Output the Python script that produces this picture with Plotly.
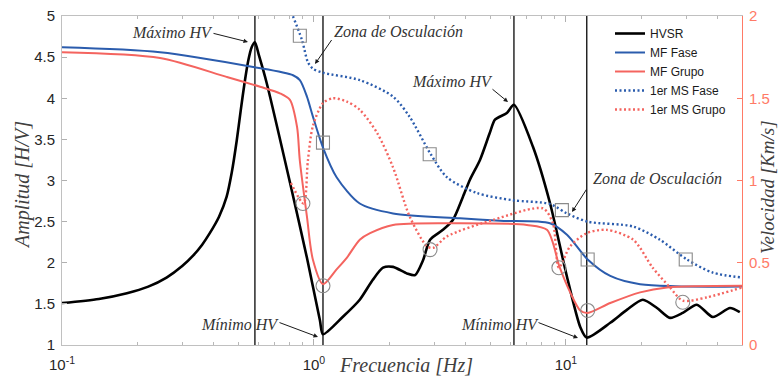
import numpy as np
import plotly.graph_objects as go

# ---------------- data ----------------
hvsr_f = [0.1, 0.14, 0.181, 0.22, 0.26, 0.30, 0.332, 0.36, 0.386, 0.42, 0.450, 0.472, 0.494,
          0.512, 0.530, 0.548, 0.566, 0.583, 0.605, 0.650,
          0.804, 0.938, 1.056, 1.086, 1.30, 1.52, 1.71, 1.88, 2.06, 2.34, 2.52, 2.71, 2.89,
          3.25, 3.56, 3.90, 4.16, 4.56, 4.99, 5.23, 5.83, 6.22, 7.40, 8.64, 10.1, 11.4,
          12.1, 15.0, 17.5, 20.2, 23.0, 25.9, 29.1, 33.1, 38.3, 44.8, 49.0]
hvsr_a = [1.51, 1.56, 1.63, 1.71, 1.82, 1.96, 2.09, 2.22, 2.36, 2.56, 2.80, 3.10, 3.49,
          3.85, 4.18, 4.45, 4.62, 4.68, 4.52, 4.18,
          2.97, 2.06, 1.30, 1.13, 1.34, 1.55, 1.79, 1.94, 1.95, 1.87, 1.85, 2.03, 2.28,
          2.40, 2.52, 2.80, 3.01, 3.25, 3.58, 3.74, 3.82, 3.92, 3.41, 2.73, 1.83, 1.22,
          1.09, 1.27, 1.43, 1.55, 1.45, 1.33, 1.39, 1.49, 1.34, 1.45, 1.40]

mf_fase_f = [0.1, 0.245, 0.574, 0.826, 0.879, 0.938, 0.99, 1.086, 1.23, 1.52, 2.06, 3.80,
             5.47, 8.64, 10.1, 12.2, 15.0, 19.7, 50.0]
mf_fase_v = [1.81, 1.78, 1.69, 1.64, 1.61, 1.51, 1.39, 1.20, 1.02, 0.86, 0.80, 0.77,
             0.755, 0.74, 0.67, 0.52, 0.42, 0.37, 0.355]

mf_grupo_f = [0.1, 0.245, 0.450, 0.611, 0.733, 0.803, 0.857, 0.879, 0.938, 0.99, 1.086,
              1.23, 1.35, 1.52, 1.67, 2.06, 3.80, 7.0, 8.41, 9.46, 10.4, 11.4, 12.2, 15.0,
              19.7, 25.2, 50.0]
mf_grupo_v = [1.78, 1.745, 1.63, 1.57, 1.53, 1.49, 1.325, 1.12, 0.78, 0.52, 0.37,
              0.46, 0.53, 0.64, 0.68, 0.73, 0.74, 0.73, 0.70, 0.47, 0.32, 0.21, 0.195, 0.255,
              0.32, 0.35, 0.36]

ms_fase_f = [0.80, 0.896, 0.946, 0.99, 1.086, 1.52, 2.06, 2.40, 2.89, 3.37, 4.43, 6.16,
             8.64, 10.1, 12.2, 18.5, 23.6, 30.2, 38.3, 50.0]
ms_fase_v = [2.05, 1.855, 1.72, 1.68, 1.655, 1.61, 1.51, 1.386, 1.167, 1.02, 0.924, 0.88,
             0.857, 0.80, 0.75, 0.72, 0.64, 0.52, 0.44, 0.41]

ms_grupo_f = [0.81, 0.91, 0.946, 0.99, 1.086, 1.19, 1.35, 1.52, 1.78, 2.06, 2.40, 2.81,
              2.97, 3.37, 5.13, 8.11, 8.88, 9.38, 10.4, 12.1, 14.5, 18.5, 22.1, 25.9, 29.1,
              36.3, 50.0]
ms_grupo_v = [0.985, 0.86, 1.12, 1.33, 1.47, 1.50, 1.48, 1.43, 1.29, 1.08, 0.78, 0.60,
              0.59, 0.66, 0.76, 0.83, 0.74, 0.47, 0.60, 0.68, 0.70, 0.64, 0.47, 0.35, 0.27,
              0.29, 0.35]

sq_f = [0.879, 1.086, 2.88, 9.64, 12.2, 29.9]
sq_v = [1.88, 1.23, 1.16, 0.82, 0.52, 0.52]
circ_f = [0.904, 1.086, 2.89, 9.38, 12.2, 29.1]
circ_v = [0.86, 0.36, 0.58, 0.47, 0.21, 0.26]

vline_f = [0.583, 1.086, 6.22, 12.1]

x_tickvals = [0.1, 1, 10]
x_ticktext = ["10<sup>-1</sup>", "10<sup>0</sup>", "10<sup>1</sup>"]
x_minor = [0.2, 0.3, 0.4, 0.5, 0.6, 0.7, 0.8, 0.9, 2, 3, 4, 5, 6, 7, 8, 9, 20, 30, 40]
y_tickvals = [1, 1.5, 2, 2.5, 3, 3.5, 4, 4.5, 5]
y_ticktext = ["1", "1.5", "2", "2.5", "3", "3.5", "4", "4.5", "5"]
y2_tickvals = [0, 0.5, 1, 1.5, 2]
y2_ticktext = ["0", "0.5", "1", "1.5", "2"]

# ---------------- style ----------------
W, H = 780, 376
ML, MR, MT, MB = 62, 38, 16, 31
PW, PH = W - ML - MR, H - MT - MB

BLUE = "#2b5cad"
RED = "#f4645f"
SALMON = "#ff7a66"
GRAY = "#8a8a8a"
SANS = "Liberation Sans, Arial, sans-serif"
SERIF = "Liberation Serif, Times New Roman, serif"


def px(x):
    return (x - ML) / PW


def py(y):
    return (H - MB - y) / PH


fig = go.Figure()

# vertical reference lines
vx, vy = [], []
for f in vline_f:
    vx += [f, f, None]
    vy += [1, 5, None]
fig.add_trace(go.Scatter(x=vx, y=vy, mode="lines", line=dict(color="#1a1a1a", width=1.4),
                         showlegend=False, hoverinfo="skip", yaxis="y"))

fig.add_trace(go.Scatter(x=hvsr_f, y=hvsr_a, name="HVSR", mode="lines",
                         line=dict(color="black", width=2.6, shape="spline", smoothing=0.7),
                         yaxis="y"))
fig.add_trace(go.Scatter(x=mf_fase_f, y=mf_fase_v, name="MF Fase", mode="lines",
                         line=dict(color=BLUE, width=2, shape="spline", smoothing=0.8),
                         yaxis="y2"))
fig.add_trace(go.Scatter(x=mf_grupo_f, y=mf_grupo_v, name="MF Grupo", mode="lines",
                         line=dict(color=RED, width=2, shape="spline", smoothing=0.8),
                         yaxis="y2"))
fig.add_trace(go.Scatter(x=ms_fase_f, y=ms_fase_v, name="1er MS Fase", mode="lines",
                         line=dict(color=BLUE, width=2.4, dash="2px,2.5px", shape="spline",
                                   smoothing=0.8),
                         yaxis="y2"))
fig.add_trace(go.Scatter(x=ms_grupo_f, y=ms_grupo_v, name="1er MS Grupo", mode="lines",
                         line=dict(color=RED, width=2.4, dash="2px,2.5px", shape="spline",
                                   smoothing=0.8),
                         yaxis="y2"))
fig.add_trace(go.Scatter(x=sq_f, y=sq_v, mode="markers", showlegend=False,
                         marker=dict(symbol="square-open", size=13, color=GRAY,
                                     line=dict(width=1.1, color=GRAY)),
                         yaxis="y2"))
fig.add_trace(go.Scatter(x=circ_f, y=circ_v, mode="markers", showlegend=False,
                         marker=dict(symbol="circle-open", size=14, color=GRAY,
                                     line=dict(width=1.1, color=GRAY)),
                         yaxis="y2"))

# ---------------- annotations ----------------
ann = []
labels = [
    ("Máximo HV", 172, 33),
    ("Zona de Osculación", 398, 31),
    ("Máximo HV", 452, 81),
    ("Zona de Osculación", 657, 178),
    ("Mínimo HV", 240, 324),
    ("Mínimo HV", 500, 324),
]
for t, x, y in labels:
    ann.append(dict(text="<i>" + t + "</i>", x=px(x), y=py(y), xref="paper", yref="paper",
                    showarrow=False, xanchor="center", yanchor="middle",
                    font=dict(family=SERIF, size=16, color="#333333")))
arrows = [  # tip pixel, tail pixel
    ((248, 42), (212, 33)),
    ((315, 64), (333, 38)),
    ((508, 102), (491, 88)),
    ((572, 212), (588, 187)),
    ((318, 337), (278, 322)),
    ((578, 338), (537, 322)),
]
for (tx, ty), (sx, sy) in arrows:
    ann.append(dict(text=" ", x=px(tx), y=py(ty), xref="paper", yref="paper",
                    ax=sx - tx, ay=sy - ty, showarrow=True, arrowhead=2, arrowsize=0.9,
                    arrowwidth=1, arrowcolor="#1a1a1a", standoff=0, startstandoff=0,
                    font=dict(size=1)))
# axis titles
ann.append(dict(text="<i>Frecuencia [Hz]</i>", x=px(337), y=py(365), xref="paper", yref="paper",
                showarrow=False, xanchor="left", yanchor="middle",
                font=dict(family=SERIF, size=20, color="#404040")))
ann.append(dict(text="<i>Amplitud [H/V]</i>", x=px(23), y=py(185), xref="paper", yref="paper",
                showarrow=False, textangle=-90, xanchor="center", yanchor="middle",
                font=dict(family=SERIF, size=20, color="#404040")))
ann.append(dict(text="<i>Velocidad [Km/s]</i>", x=px(767), y=py(187), xref="paper", yref="paper",
                showarrow=False, textangle=-90, xanchor="center", yanchor="middle",
                font=dict(family=SERIF, size=19, color="#404040")))

fig.update_layout(
    width=W, height=H, margin=dict(l=ML, r=MR, t=MT, b=MB, pad=0, autoexpand=False),
    paper_bgcolor="white", plot_bgcolor="white",
    font=dict(family=SANS, size=15, color="#262626"),
    annotations=ann,
    showlegend=True,
    legend=dict(x=px(610), y=py(19), xanchor="left", yanchor="top",
                bgcolor="rgba(255,255,255,1)", borderwidth=0,
                font=dict(family=SANS, size=12, color="#1a1a1a"),
                tracegroupgap=0, itemwidth=30),
    xaxis=dict(type="log", range=[-1, np.log10(50)], tickvals=x_tickvals, ticktext=x_ticktext,
               ticks="inside", ticklen=6, tickcolor="#b0b0b0", showline=True,
               linecolor="#c0c0c0", linewidth=1, mirror="ticks", showgrid=False,
               zeroline=False, ticklabelstandoff=6, automargin=False,
               minor=dict(tickvals=x_minor, ticks="inside", ticklen=3, tickcolor="#b8b8b8",
                          showgrid=False),
               tickfont=dict(family=SANS, size=15, color="#262626")),
    yaxis=dict(range=[1, 5], tickvals=y_tickvals, ticktext=y_ticktext, ticks="inside",
               ticklen=5, tickcolor="#b0b0b0", showline=True, linecolor="#c0c0c0",
               linewidth=1, showgrid=False, zeroline=False, ticklabelstandoff=3,
               automargin=False,
               tickfont=dict(family=SANS, size=15, color="#262626")),
    yaxis2=dict(range=[0, 2], overlaying="y", side="right", tickvals=y2_tickvals,
                ticktext=y2_ticktext, ticks="inside", ticklen=5, tickcolor=SALMON,
                showline=True, linecolor=SALMON, linewidth=1, showgrid=False,
                zeroline=False, ticklabelstandoff=3, automargin=False,
                tickfont=dict(family=SANS, size=15, color=SALMON)),
)

fig.write_html("out.html")
